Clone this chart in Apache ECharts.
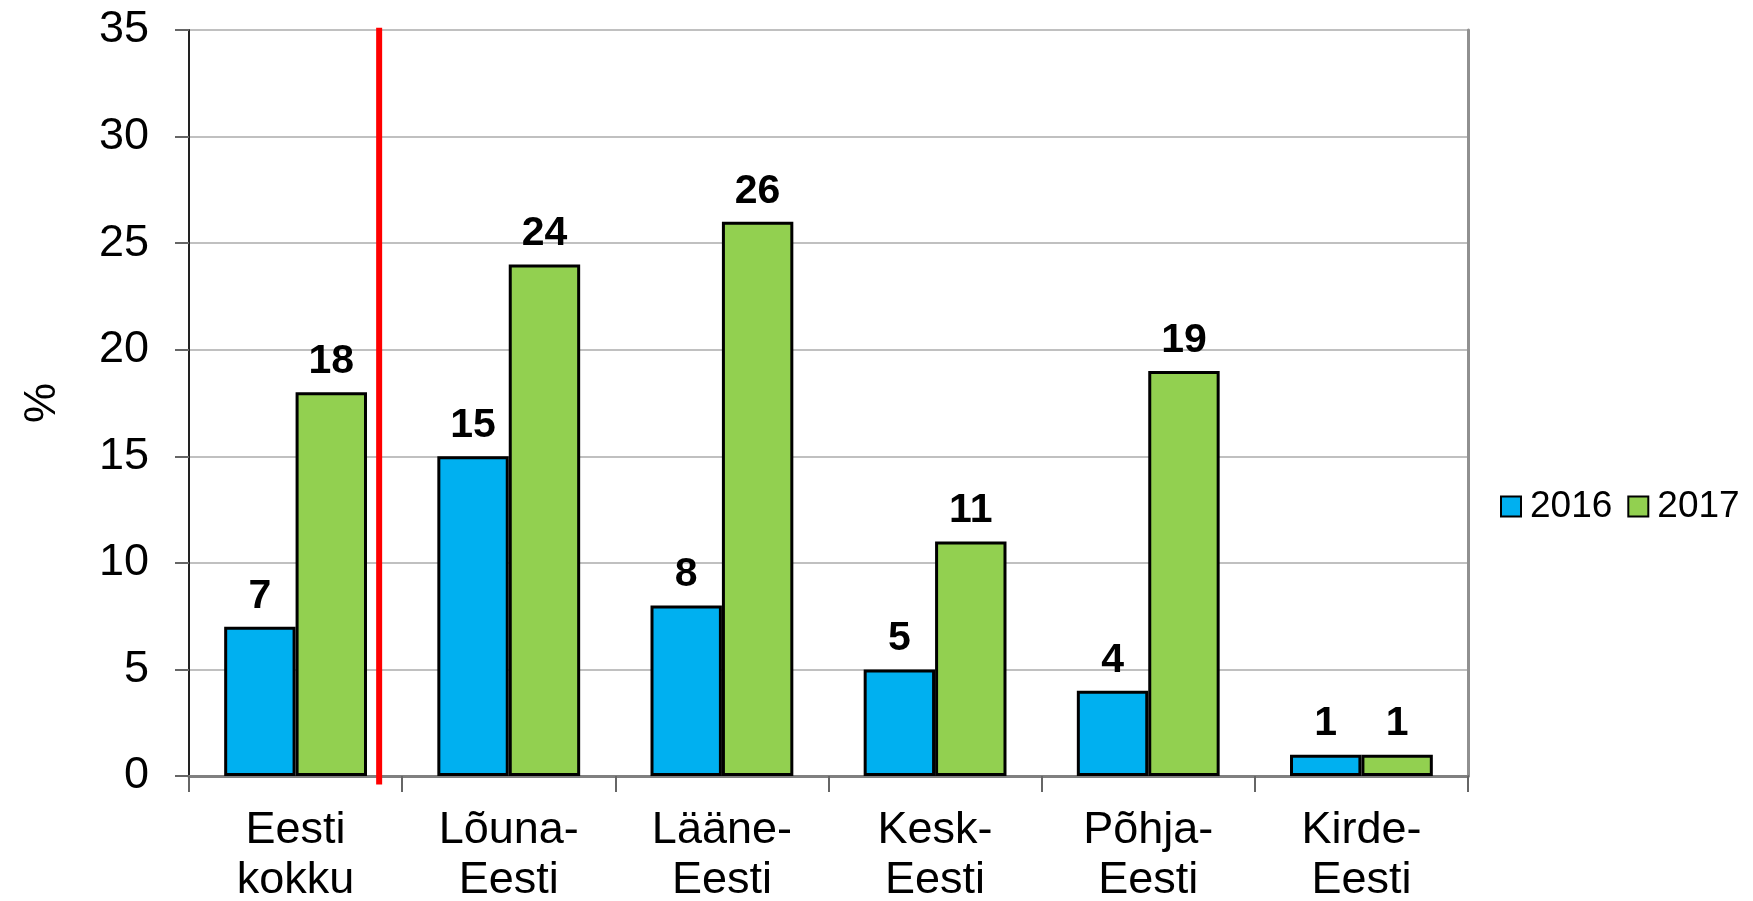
<!DOCTYPE html>
<html>
<head>
<meta charset="utf-8">
<script src="https://cdn.jsdelivr.net/npm/echarts@6/dist/echarts.min.js"></script>
<style>
  html, body { margin: 0; padding: 0; background: #fff; }
  #chart { width: 1753px; height: 901px; }
</style>
</head>
<body>
<div id="chart"></div>
<script>
// andmed
const regions = ['Eesti\nkokku', 'Lõuna-\nEesti', 'Lääne-\nEesti', 'Kesk-\nEesti', 'Põhja-\nEesti', 'Kirde-\nEesti'];
const values2016 = [7, 15, 8, 5, 4, 1];
const values2017 = [18, 24, 26, 11, 19, 1];
const yTicks = [0, 5, 10, 15, 20, 25, 30, 35];
// punane eraldusjoon (positsioon kategooriate skaalal 0..6)
const dividerX = 0.892;

const font = 'Liberation Sans, Arial, sans-serif';
const myChart = echarts.init(document.getElementById('chart'));

const option = {
  animation: false,
  textStyle: { fontFamily: font },
  grid: { left: 189, right: 285, top: 30, bottom: 125, outerBoundsMode: 'none', containLabel: false },
  legend: {
    data: ['2016', '2017'],
    left: 1495,
    top: 483,
    orient: 'horizontal',
    itemWidth: 20,
    itemHeight: 20,
    itemGap: 15,
    icon: 'rect',
    textStyle: { fontSize: 37, color: '#000', fontFamily: font, padding: [0, 0, 0, 4] }
  },
  xAxis: [
    {
      type: 'category',
      data: regions,
      boundaryGap: true,
      axisLine: { lineStyle: { color: '#000', width: 2 } },
      axisTick: { show: true, length: 16, lineStyle: { color: '#666', width: 2 } },
      axisLabel: { fontSize: 45, lineHeight: 50, color: '#000', margin: 30, interval: 0, fontFamily: font }
    },
    {
      type: 'value',
      position: 'top',
      min: 0,
      max: 6,
      axisLine: { show: true, lineStyle: { color: '#808080', width: 3 } },
      axisTick: { show: false },
      axisLabel: { show: false },
      splitLine: { show: false }
    }
  ],
  yAxis: [
    {
      type: 'value',
      min: yTicks[0],
      max: yTicks[yTicks.length - 1],
      interval: 5,
      name: '%',
      nameLocation: 'middle',
      nameGap: 124,
      nameRotate: 90,
      nameTextStyle: { fontSize: 45, color: '#000', fontFamily: font },
      axisLine: { show: true, lineStyle: { color: '#222', width: 2 } },
      axisTick: { show: true, length: 14, lineStyle: { color: '#666', width: 2 } },
      axisLabel: { fontSize: 45, color: '#000', margin: 40, fontFamily: font },
      splitLine: { lineStyle: { color: '#c0c0c0', width: 2 } }
    },
    {
      type: 'value',
      position: 'right',
      min: 0,
      max: 35,
      axisLine: { show: true, lineStyle: { color: '#909090', width: 3 } },
      axisTick: { show: false },
      axisLabel: { show: false },
      splitLine: { show: false }
    }
  ],
  series: [
    {
      name: '2016',
      type: 'bar',
      data: values2016,
      barGap: '0%',
      barCategoryGap: '33%',
      itemStyle: { color: '#00b0f0', borderColor: '#000', borderWidth: 3 },
      label: { show: true, position: 'top', distance: 10, fontSize: 41, fontWeight: 'bold', color: '#000', fontFamily: font }
    },
    {
      name: '2017',
      type: 'bar',
      data: values2017,
      itemStyle: { color: '#92d050', borderColor: '#000', borderWidth: 3 },
      label: { show: true, position: 'top', distance: 10, fontSize: 41, fontWeight: 'bold', color: '#000', fontFamily: font }
    },
    {
      type: 'line',
      xAxisIndex: 1,
      yAxisIndex: 0,
      data: [[dividerX, 35.1], [dividerX, -0.4]],
      clip: false,
      symbol: 'none',
      silent: true,
      z: 10,
      lineStyle: { color: '#ff0000', width: 6 }
    }
  ]
};

myChart.setOption(option);
</script>
</body>
</html>
